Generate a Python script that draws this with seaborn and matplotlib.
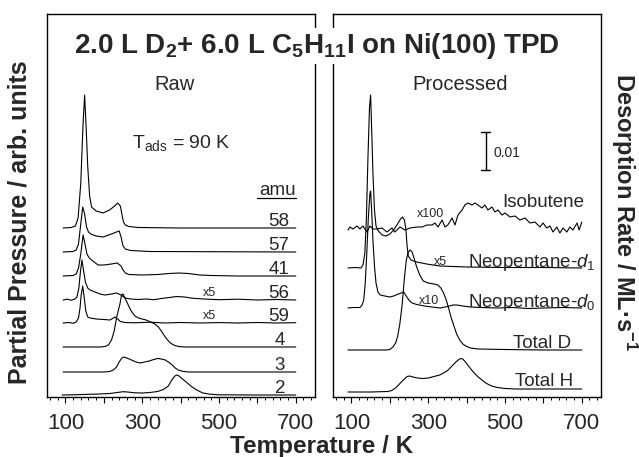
import matplotlib
matplotlib.use("Agg")
import matplotlib.pyplot as plt
import seaborn as sns
import numpy as np
from matplotlib.ticker import MultipleLocator, FuncFormatter

# ---------------- data ----------------
# Raw panel: amu traces, temperature (K) and height above each trace's own baseline
raw_labels = ["58", "57", "41", "56", "59", "4", "3", "2"]
raw_offsets = [169, 145, 121, 97, 74, 50, 25, 2]

T58 = [94, 115, 126, 133, 140, 143, 146, 150, 154, 158, 163, 168, 180, 198, 215, 228, 236, 243, 247, 251, 256, 265, 290, 400, 550, 700]
h58 = [0, 0.5, 2, 10, 45, 75, 105, 133, 100, 62, 32, 21, 17, 15, 18, 22, 25, 22, 14, 6, 3, 1.5, 0.5, 0, 0, 0]

T57 = [94, 120, 128, 134, 139, 145, 150, 155, 160, 166, 180, 198, 220, 233, 240, 245, 250, 256, 270, 320, 700]
h57 = [0, 0.5, 2, 8, 25, 45, 38, 25, 20, 18, 16, 15, 18, 20, 21, 15, 6, 3, 1.5, 0.5, 0]

T41 = [94, 120, 128, 134, 140, 146, 151, 156, 162, 168, 185, 200, 220, 235, 245, 250, 256, 265, 300, 340, 370, 395, 420, 450, 480, 550, 700]
h41 = [0, 0.5, 2, 8, 22, 41, 32, 22, 18, 16, 11, 11, 12, 13, 10, 6, 3, 1.5, 1, 1.5, 2.5, 3, 2.5, 1, 0.5, 0, 0]

T56 = [94, 105, 115, 125, 130, 135, 139, 143, 147, 152, 158, 164, 177, 190, 203, 220, 233, 245, 255, 270, 290, 310, 330, 350, 370, 390, 410, 430, 460, 500, 550, 600, 650, 700]
h56 = [0, 0.8, -0.3, 1, 3, 12, 28, 40, 30, 18, 12, 10, 8, 6, 5, 6, 7, 5, 2, 1, 0.5, 1, 0.3, 1.5, 2.5, 3.5, 3, 1.8, 1, 0.3, 0.8, 0, 0.5, 0]

T59 = [94, 110, 120, 128, 134, 138, 141, 145, 149, 153, 158, 164, 180, 200, 216, 229, 236, 243, 255, 280, 320, 360, 400, 450, 500, 550, 600, 650, 700]
h59 = [0, 0.5, -0.3, 1, 5, 15, 28, 37, 25, 12, 6, 5, 4, 3.5, 3, 6, 4, 1.5, 0.5, 0.2, 0.8, 0, 0.5, 0, 0.4, 0, 0.5, 0, 0.3]

T4 = [94, 150, 190, 203, 212, 220, 227, 233, 238, 242, 246, 250, 255, 260, 266, 273, 281, 290, 300, 310, 322, 333, 342, 350, 358, 366, 375, 385, 395, 410, 500, 700]
h4 = [0, 0, 0, 0.5, 2, 7, 16, 29, 37, 43, 52, 53, 49, 45, 40, 35, 31, 29, 28, 27, 25, 23, 20, 16, 11, 7, 3.5, 1.5, 0.5, 0, 0, 0]

T3 = [94, 150, 200, 215, 225, 233, 240, 247, 252, 260, 272, 284, 295, 306, 318, 330, 340, 350, 360, 370, 378, 386, 394, 405, 420, 500, 700]
h3 = [0, 0, 0, 0.5, 2, 5, 10, 14, 15, 14, 12, 10, 9, 10, 11, 12.5, 13.5, 13, 12, 9.5, 7, 4, 2, 0.7, 0, 0, 0]

T2 = [91, 130, 160, 190, 215, 235, 250, 262, 280, 300, 320, 340, 355, 368, 377, 385, 390, 396, 405, 416, 428, 442, 458, 476, 500, 600, 700]
h2 = [0, 0.3, 0.7, 1, 1.5, 2.5, 3.3, 3, 2.2, 2, 2.5, 3.5, 5.5, 9, 15, 19, 20, 19, 16, 12.5, 8.5, 5, 2, 0.8, 0.2, 0, 0]

raw_T = [T58, T57, T41, T56, T59, T4, T3, T2]
raw_h = [h58, h57, h41, h56, h59, h4, h3, h2]

# Processed panel
proc_labels = ["Isobutene", r"Neopentane-$\mathit{d}_{\mathit{1}}$", r"Neopentane-$\mathit{d}_{\mathit{0}}$", "Total D", "Total H"]
proc_offsets = [168, 129, 89, 47, 8]

T_iso = [91, 96, 104, 114.5, 122, 130, 140.5, 148, 156, 166.6, 179.6, 192.6, 205.6, 213, 226.5, 239.5, 252.5, 270.7, 284, 296.8, 310, 317.6, 325.5, 336, 343.6, 351, 362, 369.7, 377.5, 388, 395.7, 403.5, 414, 421.7, 429.5, 440, 447.6, 455.5, 466, 473.8, 481.6, 492, 500, 513, 526, 539, 552, 565, 578, 591, 599, 609, 617, 625, 635, 643, 651, 661, 669, 677, 687.5, 693, 700]
h_iso = [-1, 2, 0, 3, 0, 3, -3, 3, 0, 0, 1, -3, 1, -3, 2, -1, 1, 2, 2, 4, 4, 6, 2, 9, 2, 4, 11, 4, 14, 19, 24, 26, 24, 26, 24, 21, 24, 19, 22, 17, 19, 14, 16, 12, 13, 9, 11, 6, 7, 2, 6, 1, 3, -3, 2, -4, 1, -3, 2, -1, 6, -1, 7]

T_d1 = [91, 110, 125, 130, 135, 139, 143, 147, 150, 153, 156, 160, 164, 170, 180, 190, 200, 210, 220, 228, 233, 238, 242, 245, 248, 255, 270, 296, 330, 400, 500, 600, 700]
h_d1 = [0, 0.5, 0, 3, 15, 50, 110, 160, 173, 135, 95, 58, 42, 37, 33, 32, 34, 38, 44, 49, 51, 48, 38, 22, 12, 8, 6, 4, 2, 1, 0.5, 0.5, 0]

T_d0 = [91, 105, 122, 128, 132, 136, 140, 144, 148, 150, 153, 156, 160, 164, 169, 175, 187, 200, 210, 222, 230, 236, 241, 246, 252, 258, 270, 290, 310, 331, 350, 365, 375, 390, 410, 440, 480, 520, 560, 600, 650, 700]
h_d0 = [0, 0.5, 0.5, 3, 8, 25, 55, 90, 114, 117, 95, 68, 42, 25, 16, 13, 12, 11, 12, 14, 15, 16, 13, 10, 7, 5, 3.5, 2, 1, 0, 1.5, 3, 3, 2, 1, 0.5, 0, 0.5, -0.5, 0, 0.5, 0]

T_D = [91, 150, 190, 200, 208, 215, 220, 226, 232, 238, 243, 248, 253, 258, 263, 270, 278, 287, 300, 315, 325, 333, 340, 347, 353, 360, 367, 374, 382, 390, 400, 410, 430, 500, 600, 700]
h_D = [0, 0, 0, 0.5, 3, 7, 13, 26, 45, 72, 90, 98, 100, 98, 92, 83, 75, 69, 67, 66, 65, 62, 57, 50, 42, 32, 24, 16, 10, 6, 3.5, 2, 1, 0.5, 0, 0]

T_H = [91, 150, 195, 205, 215, 225, 235, 245, 252, 260, 272, 287, 300, 315, 330, 340, 352, 362, 372, 380, 385, 390, 397, 405, 413, 420, 430, 440, 452, 465, 480, 500, 530, 600, 700]
h_H = [-3, -3, -2.5, -1.5, 1, 5, 9, 12.5, 13, 12, 11, 10.5, 11, 12.5, 14, 16, 19, 23, 27, 29.5, 30.5, 30, 27, 23, 19, 16, 12, 9, 5.5, 3, 1.5, 0.5, 0, 0, 0]

proc_T = [T_iso, T_d1, T_d0, T_D, T_H]
proc_h = [h_iso, h_d1, h_d0, h_D, h_H]

xtick_labels = [100, 300, 500, 700]

# ---------------- style ----------------
sns.set_theme(style="white")
plt.rcParams["font.family"] = ["Liberation Sans", "DejaVu Sans"]
plt.rcParams["mathtext.fontset"] = "custom"
plt.rcParams["mathtext.rm"] = "Liberation Sans"
plt.rcParams["mathtext.it"] = "Liberation Sans:italic"
plt.rcParams["mathtext.bf"] = "Liberation Sans:bold"

W, H = 639, 457
fig = plt.figure(figsize=(W / 100, H / 100), dpi=100)
bot = (H - 397) / H
hgt = 383 / H
axL = fig.add_axes([47 / W, bot, 268 / W, hgt])
axR = fig.add_axes([333 / W, bot, 268 / W, hgt])

lw = 0.8
for T, h, off in zip(raw_T, raw_h, raw_offsets):
    sns.lineplot(x=T, y=np.array(h) + off, ax=axL, color="black", lw=lw, estimator=None, sort=False)
for T, h, off in zip(proc_T, proc_h, proc_offsets):
    sns.lineplot(x=T, y=np.array(h) + off, ax=axR, color="black", lw=lw, estimator=None, sort=False)

def fmt(v, pos):
    return f"{int(round(v))}" if int(round(v)) in xtick_labels else ""

for ax in (axL, axR):
    ax.set_xlim(52, 750)
    ax.set_ylim(0, 383)
    ax.set_yticks([])
    ax.set_xlabel("")
    ax.set_ylabel("")
    ax.xaxis.set_major_locator(MultipleLocator(100))
    ax.xaxis.set_minor_locator(MultipleLocator(20))
    ax.xaxis.set_major_formatter(FuncFormatter(fmt))
    ax.tick_params(axis="x", which="major", direction="out", length=4.5, width=0.8,
                   color="black", labelsize=16, pad=7, bottom=True)
    ax.tick_params(axis="x", which="minor", direction="out", length=2.2, width=0.7,
                   color="black", bottom=True)
    for s in ax.spines.values():
        s.set_color("black")
        s.set_linewidth(1.0)

LBL = 13.5
# raw labels
for lab, off in zip(raw_labels, raw_offsets):
    axL.text(682 if len(lab) > 1 else 672, off + 2, lab, ha="right", va="baseline", fontsize=LBL)
axL.text(700, 202, "amu", ha="right", va="baseline", fontsize=LBL)
axL.plot([600, 700], [199.5, 199.5], color="black", lw=0.9)
axL.text(273, 249, r"T$_{\mathrm{ads}}$ = 90 K", ha="left", va="baseline", fontsize=14)
axL.text(476, 104, "x5", ha="center", va="center", fontsize=9)
axL.text(476, 81, "x5", ha="center", va="center", fontsize=9)
axL.text(383, 307, "Raw", ha="center", va="baseline", fontsize=14.5)

# processed labels
proc_left = [492, 404, 404, 522, 525]
proc_base = [190, 130, 90, 49, 11]
for lab, x, y in zip(proc_labels, proc_left, proc_base):
    axR.text(x, y, lab, ha="left", va="baseline", fontsize=LBL)
axR.text(305, 183, "x100", ha="center", va="center", fontsize=9)
axR.text(331, 135, "x5", ha="center", va="center", fontsize=9)
axR.text(302, 96, "x10", ha="center", va="center", fontsize=9)
axR.text(383, 307, "Processed", ha="center", va="baseline", fontsize=14.5)
# scale bar 0.01
axR.plot([450, 450], [227, 265], color="black", lw=1.0)
axR.plot([438, 462], [227, 227], color="black", lw=1.0)
axR.plot([438, 462], [265, 265], color="black", lw=1.0)
axR.text(471, 244, "0.01", ha="left", va="center", fontsize=10)

# figure texts
fig.text(317 / W, 1 - 53 / H,
         r"2.0 L D$_\mathbf{2}$+ 6.0 L C$_\mathbf{5}$H$_\mathbf{11}$I on Ni(100) TPD",
         ha="center", va="baseline", fontsize=20, fontweight="bold",
         bbox=dict(facecolor="white", edgecolor="none", pad=2), zorder=10)
fig.text(322 / W, 1 - 446 / H, "Temperature / K", ha="center", va="center",
         fontsize=17.5, fontweight="bold")
fig.text(20 / W, 1 - 222 / H, "Partial Pressure / arb. units", ha="center", va="center",
         rotation=90, fontsize=18, fontweight="bold")
fig.text(624 / W, 1 - 212 / H, r"Desorption Rate / ML·s$^\mathbf{-1}$", ha="center", va="center",
         rotation=270, fontsize=17, fontweight="bold")

fig.savefig("out.png", dpi=100)
